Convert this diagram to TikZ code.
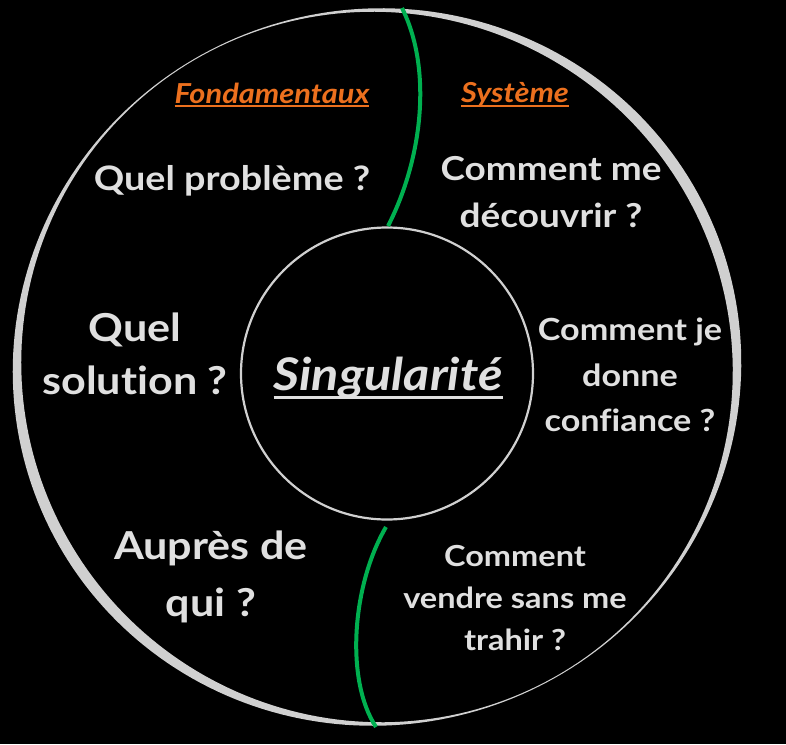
\documentclass[tikz,border=0pt]{standalone}
\usepackage{fontspec}
\setmainfont{Lato}[FakeStretch=1.12, Ligatures={NoCommon}]
\definecolor{ringgray}{RGB}{208,208,208}
\definecolor{txtgray}{RGB}{224,224,224}
\definecolor{orangetxt}{RGB}{236,112,30}
\definecolor{greenline}{RGB}{0,176,80}
\newcommand{\myul}[3]{\setbox0\hbox{#1}\rlap{\rule[-#2]{\wd0}{#3}}\box0}
\tikzset{
  qtext/.style={text=txtgray, font=\bfseries, align=center, inner sep=0pt},
  headtext/.style={text=orangetxt, font=\bfseries\itshape, inner sep=0pt},
  divider/.style={draw=greenline, line width=4pt},
}
\begin{document}
\begin{tikzpicture}[x=1pt,y=-1pt]
\useasboundingbox (0,0) rectangle (786,744);
\fill[black] (0,0) rectangle (786,744);
% outer ring with varying stroke width
\fill[ringgray, even odd rule]
  plot[domain=0:360, samples=240] ({377+(360+(6+5*cos(2*(\x-150)))/2)*cos(\x)}, {367+(357+(6+5*cos(2*(\x-150)))/2)*sin(\x)}) -- cycle
  plot[domain=0:360, samples=240] ({377+(360-(6+5*cos(2*(\x-150)))/2)*cos(\x)}, {367+(357-(6+5*cos(2*(\x-150)))/2)*sin(\x)}) -- cycle;
% inner circle
\draw[ringgray, line width=2.2pt] (387,373.5) circle[radius=146];
% green dividers
\draw[divider] (402,8) .. controls (433,70) and (422,160) .. (388,226);
\draw[divider] (386,527) .. controls (352,585) and (345,680) .. (376,727);
% headings
\node[headtext, font=\fontsize{27.5}{30}\selectfont\bfseries\itshape] (fond) at (272,95) {\myul{Fondamentaux}{4pt}{2pt}};
\node[headtext, font=\fontsize{27.5}{30}\selectfont\bfseries\itshape] (sys) at (515,95) {\myul{Système}{4pt}{2pt}};
% questions
\node[qtext, font=\fontsize{33.7}{47}\selectfont\bfseries] (qprob) at (232,181) {Quel problème ?};
\node[qtext, font=\fontsize{33}{47}\selectfont\bfseries] (qdec) at (551,192) {Comment me\\découvrir ?};
\node[qtext, font=\fontsize{38.5}{53}\selectfont\bfseries] (qsol) at (135,354) {Quel\\solution ?};
\node[qtext, font=\fontsize{45}{48}\selectfont\bfseries\itshape] (sing) at (388,378) {\myul{Singularité}{8pt}{3pt}};
\node[qtext, font=\fontsize{30.5}{45.5}\selectfont\bfseries] (qconf) at (630,375) {Comment je\\donne\\confiance ?};
\node[qtext, font=\fontsize{38.5}{57}\selectfont\bfseries] (qaup) at (211,577) {Auprès de\\qui ?};
\node[qtext, font=\fontsize{29}{42}\selectfont\bfseries] (qvend) at (515,598) {Comment\\vendre sans me\\trahir ?};
\end{tikzpicture}
\end{document}
